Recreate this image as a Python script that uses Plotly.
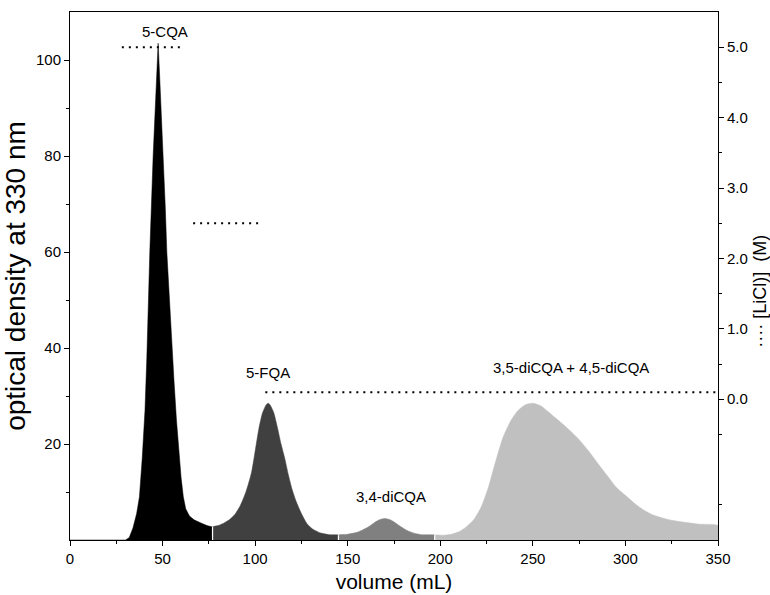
import plotly.graph_objects as go

# Elution fractions: volume (mL) and optical density at 330 nm
cqa5_volume = [0, 30, 32, 34, 36, 37.5, 39, 40.5, 41.5, 42, 42.5, 43.1, 44.9, 46.3,
               47.6, 48.5, 49.5, 50.5, 51.5, 52.3, 53.5, 54.5, 55.3, 56.2, 57.5,
               58.9, 60, 61.2, 62.5, 64.5, 67, 71, 74, 77]
cqa5_od = [0, 0, 0.5, 2.5, 5.5, 9, 17, 27, 38, 46, 52, 60, 80, 94,
           103.5, 96, 88, 80, 69, 60, 51, 45, 40, 33, 25,
           18, 13, 9, 6.5, 5, 4.2, 3.5, 3.0, 2.7]

fqa5_volume = [77, 80, 83, 86, 89, 92, 95, 98, 100, 102, 104, 106, 107, 108, 110,
               112, 114, 116, 118, 120, 122, 125, 128, 131, 135, 140, 145]
fqa5_od = [2.7, 3.0, 3.5, 4.2, 5.3, 7.2, 10, 14, 18.5, 23.2, 26.5, 28.2, 28.5, 28.2,
           26.6, 23.5, 20, 17, 13.5, 10.5, 8.2, 5.5, 3.4, 2.3, 1.5, 1.1, 1.0]

dicqa34_volume = [145, 150, 155, 158, 161, 164, 167, 170, 173, 176, 179, 182, 186, 190, 197]
dicqa34_od = [1.0, 1.2, 1.6, 2.1, 2.7, 3.5, 4.2, 4.5, 4.2, 3.5, 2.7, 2.0, 1.4, 1.1, 1.0]

dicqa35_45_volume = [197, 202, 206, 210, 214, 218, 222, 226, 230, 234, 238, 242, 246,
                     250, 254, 258, 262, 266, 270, 275, 280, 285, 290, 295, 300, 305,
                     310, 315, 320, 325, 330, 340, 350]
dicqa35_45_od = [1.0, 1.0, 1.2, 1.7, 2.7, 4.2, 6.8, 11, 16.5, 21.5, 24.8, 27, 28.2,
                 28.5, 28, 26.8, 25.5, 24.2, 22.8, 20.9, 18.6, 16, 13.5, 11, 9.3, 7.6,
                 6.2, 5.2, 4.6, 4.1, 3.8, 3.3, 3.0]

# LiCl step gradient (M): start volume, end volume, concentration
licl_start = [28, 66.5, 105.5]
licl_end = [61, 102, 350]
licl_conc = [5.0, 2.5, 0.1]

peak_labels = ["5-CQA", "5-FQA", "3,4-diCQA", "3,5-diCQA + 4,5-diCQA"]
label_volume = [51.3, 107, 173.4, 270.7]
label_od = [106, 35, 9, 36]

left_ticks = [20, 40, 60, 80, 100]
right_ticks = [0, 1, 2, 3, 4, 5]
x_ticks = [0, 50, 100, 150, 200, 250, 300, 350]

FONT = "Liberation Sans, Arial, sans-serif"

fractions = [
    (cqa5_volume, cqa5_od, "#000000", "linear"),
    (fqa5_volume, fqa5_od, "#404040", "spline"),
    (dicqa34_volume, dicqa34_od, "#808080", "spline"),
    (dicqa35_45_volume, dicqa35_45_od, "#c0c0c0", "spline"),
]

fig = go.Figure()
for vol, od, color, shape in fractions:
    xs = [vol[0]] + list(vol) + [vol[-1]]
    ys = [0] + list(od) + [0]
    fig.add_trace(go.Scatter(
        x=xs, y=ys, mode="lines", fill="toself", fillcolor=color,
        line=dict(color=color, width=0.5, shape=shape, smoothing=0.6),
        hoverinfo="skip", showlegend=False,
    ))

# thin white cuts where one collected fraction ends and the next begins
sx, sy = [], []
for vol, od, _, _ in fractions[1:]:
    sx += [vol[0], vol[0], None]
    sy += [0, od[0], None]
fig.add_trace(go.Scatter(x=sx, y=sy, mode="lines", line=dict(color="white", width=1.2),
                         hoverinfo="skip", showlegend=False))

# dotted LiCl concentration steps on the secondary axis
lx, ly = [], []
for s, e, c in zip(licl_start, licl_end, licl_conc):
    lx += [s, e, None]
    ly += [c, c, None]
fig.add_trace(go.Scatter(
    x=lx, y=ly, yaxis="y2", mode="lines",
    line=dict(color="black", width=2, dash="2px,5px"),
    hoverinfo="skip", showlegend=False,
))

for txt, xv, yv in zip(peak_labels, label_volume, label_od):
    fig.add_annotation(x=xv, y=yv, text=txt, showarrow=False,
                       font=dict(family=FONT, size=15, color="black"))

fig.add_annotation(xref="paper", yref="paper", x=1.0 + 42 / 648, y=0.47,
                   xanchor="center", yanchor="middle",
                   text="···· [LiCl)]  (M)", textangle=-90, showarrow=False,
                   font=dict(family=FONT, size=18, color="black"))

axis_common = dict(showline=True, linecolor="black", linewidth=1, ticks="outside",
                   tickcolor="black", ticklen=5, showgrid=False, zeroline=False,
                   automargin=False,
                   tickfont=dict(family=FONT, size=15, color="black"))

fig.update_layout(
    width=770, height=595,
    margin=dict(l=70, r=52, t=12, b=55),
    plot_bgcolor="white", paper_bgcolor="white",
    xaxis=dict(range=[0, 350], tickvals=x_ticks, mirror=True,
               minor=dict(tickvals=[25, 75, 125, 175, 225, 275, 325], ticklen=3,
                          tickcolor="black", ticks="outside"),
               title=dict(text="volume (mL)", font=dict(family=FONT, size=21, color="black"),
                          standoff=8),
               **axis_common),
    yaxis=dict(range=[0, 110], tickvals=left_ticks,
               minor=dict(tickvals=[10, 30, 50, 70, 90], ticklen=3,
                          tickcolor="black", ticks="outside"),
               title=dict(text="optical density at 330 nm",
                          font=dict(family=FONT, size=28, color="black"), standoff=6),
               **axis_common),
    yaxis2=dict(range=[-2, 5.5], overlaying="y", side="right", tickvals=right_ticks,
                ticktext=[f"{v:.1f}" for v in right_ticks],
                minor=dict(tickvals=[-1.5, -0.5, 0.5, 1.5, 2.5, 3.5, 4.5], ticklen=3,
                           tickcolor="black", ticks="outside"),
                **axis_common),
)

fig.write_html("out.html")
